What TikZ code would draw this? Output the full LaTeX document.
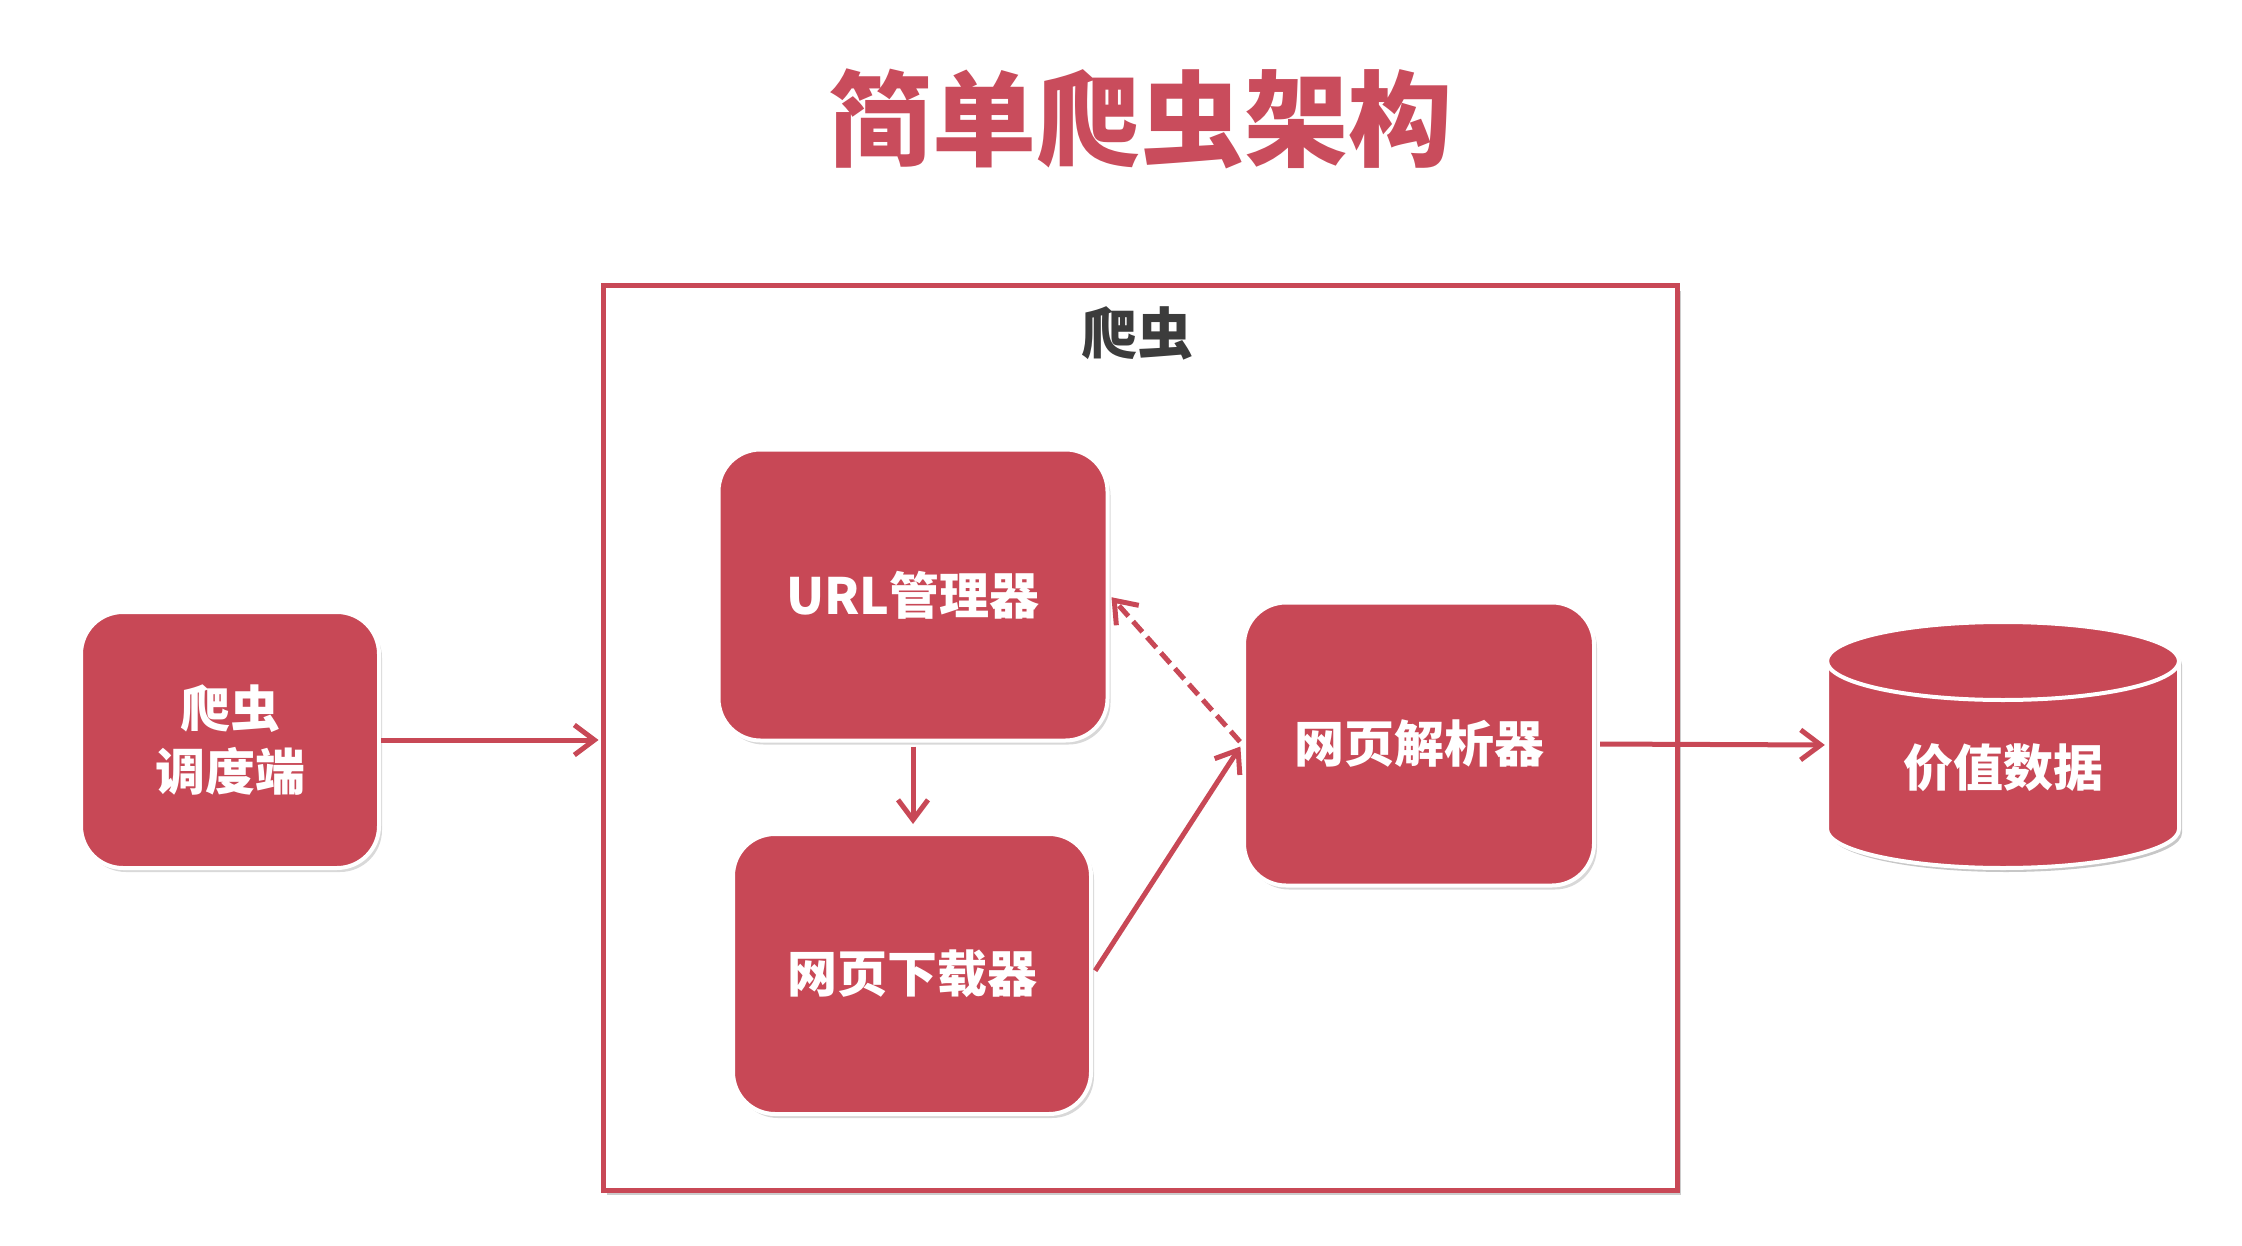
\documentclass[tikz,border=0pt]{standalone}
\usepackage{fontspec}
\newfontfamily\cjk{Noto Sans CJK SC}
\usetikzlibrary{arrows.meta,shadows}
\definecolor{boxred}{RGB}{200,72,86}
\definecolor{titlered}{RGB}{201,76,92}
\definecolor{labelgrey}{RGB}{60,60,60}
\begin{document}
\begin{tikzpicture}[x=1pt,y=-1pt,
  softshadow/.style={drop shadow={opacity=0.3, shadow xshift=3pt, shadow yshift=-4pt}},
  box/.style={rounded corners=42pt, fill=boxred, draw=white, line width=4pt,
    text=white, align=center, inner sep=0pt, softshadow,
    font=\cjk\bfseries\fontsize{50}{63}\selectfont},
  flow/.style={draw=boxred, line width=5pt,
    -{Straight Barb[length=20pt,width=30pt,line width=5pt]}},
  feedback/.style={flow, dash pattern=on 14pt off 7pt}
]
\useasboundingbox (0,0) rectangle (2242,1246);

% title
\node[font=\cjk\bfseries\fontsize{104}{110}\selectfont, text=titlered]
  (title) at (1140,119) {简单爬虫架构};

% crawler frame
\node[draw=boxred, line width=5pt, fill=white, minimum width=1074pt,
  minimum height=904pt, inner sep=0pt,
  drop shadow={opacity=0.4, shadow xshift=4pt, shadow yshift=-5pt}] (crawler) at (1140,738) {};
\node[font=\cjk\bfseries\fontsize{56}{60}\selectfont, text=labelgrey] (crawlerlabel)
  at (1137,333) {爬虫};

% components
\node[box, minimum width=298pt, minimum height=256pt] (sched) at (230,740)
  {爬虫\\调度端};
\node[box, minimum width=389pt, minimum height=291pt] (url) at (913,595)
  {URL管理器};
\node[box, minimum width=358pt, minimum height=280pt] (dl) at (912,974)
  {网页下载器};
\node[box, minimum width=350pt, minimum height=283pt] (parse) at (1419,744)
  {网页解析器};

% data store (cylinder)
\fill[black, opacity=0.22, shift={(3pt,-4pt)}]
  (1827,661) -- (1827,829) arc[start angle=180, end angle=360, x radius=176pt, y radius=39pt]
  -- (2179,661) arc[start angle=0, end angle=180, x radius=176pt, y radius=39pt] -- cycle;
\filldraw[fill=boxred, draw=white, line width=4pt]
  (1827,661) -- (1827,829) arc[start angle=180, end angle=360, x radius=176pt, y radius=39pt]
  -- (2179,661) arc[start angle=0, end angle=180, x radius=176pt, y radius=39pt] -- cycle;
\draw[white, line width=4pt]
  (1827,661) arc[start angle=180, end angle=360, x radius=176pt, y radius=39pt];
\node[minimum width=352pt, minimum height=246pt, inner sep=0pt] (data) at (2003,745) {};
\node[text=white, font=\cjk\bfseries\fontsize{50}{60}\selectfont] (datalabel)
  at (2003,768) {价值数据};

% connectors
\draw[flow, shorten >=2pt] (sched.east) -- (sched.east -| crawler.west);
\draw[flow, shorten <=4pt, shorten >=8pt] (url.south) -- (url.south |- dl.north);
\draw[flow, shorten <=4pt, shorten >=3pt] (dl.east) -- (parse.west);
\draw[feedback, shorten <=3pt, shorten >=3pt] (parse.west) -- (url.east);
\draw[flow, shorten <=4pt, shorten >=2pt] (parse.east) -- (data.west);
\end{tikzpicture}
\end{document}
